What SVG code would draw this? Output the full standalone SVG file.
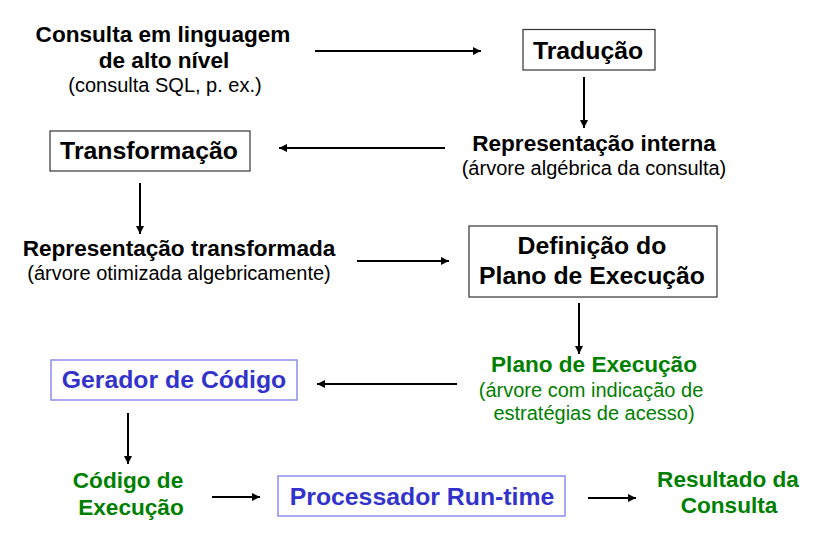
<svg xmlns="http://www.w3.org/2000/svg" width="817" height="538" viewBox="0 0 817 538">
<defs>
<marker id="ah" viewBox="0 0 10 10" refX="10" refY="5" markerWidth="4" markerHeight="4" orient="auto" markerUnits="strokeWidth">
<path d="M0,0 L10,5 L0,10 z" fill="#000"/>
</marker>
<style>
text{font-family:"Liberation Sans",Arial,sans-serif;text-anchor:middle}
.b{font-weight:bold}
.t24{font-size:24.8px}
.t22{font-size:22.6px}
.t20{font-size:20px}
.blk{fill:#000}
.grn{fill:#008000}
.blu{fill:#3333cc}
.box{fill:#fff;stroke:#333;stroke-width:1.2}
.bbox{fill:#fff;stroke:#8c8cf0;stroke-width:1.5}
.c line{stroke:#000;stroke-width:2;marker-end:url(#ah)}
</style>
</defs>
<rect width="817" height="538" fill="#fff"/>
<g id="consulta">
<text class="b t22 blk" x="163" y="42">Consulta em linguagem</text>
<text class="b t22 blk" x="164" y="68">de alto nível</text>
<text class="t20 blk" x="165" y="92">(consulta SQL, p. ex.)</text>
</g>
<g id="traducao">
<rect class="box" x="523" y="29.5" width="132" height="40.5"/>
<text class="b t24 blk" x="588" y="59">Tradução</text>
</g>
<g id="rep-interna">
<text class="b t22 blk" x="594" y="151">Representação interna</text>
<text class="t20 blk" x="594" y="175">(árvore algébrica da consulta)</text>
</g>
<g id="transformacao">
<rect class="box" x="50" y="131" width="200" height="40"/>
<text class="b t24 blk" x="149" y="159">Transformação</text>
</g>
<g id="rep-transformada">
<text class="b t22 blk" x="179" y="256">Representação transformada</text>
<text class="t20 blk" x="179" y="280">(árvore otimizada algebricamente)</text>
</g>
<g id="definicao">
<rect class="box" x="469" y="226" width="248" height="71"/>
<text class="b t24 blk" x="592" y="254">Definição do</text>
<text class="b t24 blk" x="592" y="284">Plano de Execução</text>
</g>
<g id="plano">
<text class="b t22 grn" x="594" y="372">Plano de Execução</text>
<text class="t20 grn" x="591" y="397">(árvore com indicação de</text>
<text class="t20 grn" x="594" y="420">estratégias de acesso)</text>
</g>
<g id="gerador">
<rect class="bbox" x="51" y="360" width="246" height="40"/>
<text class="b t24 blu" x="174" y="388">Gerador de Código</text>
</g>
<g id="codigo">
<text class="b t22 grn" x="128" y="488">Código de</text>
<text class="b t22 grn" x="131" y="515">Execução</text>
</g>
<g id="processador">
<rect class="bbox" x="278" y="476" width="287" height="40"/>
<text class="b t24 blu" x="422" y="505">Processador Run-time</text>
</g>
<g id="resultado">
<text class="b t22 grn" x="728" y="487">Resultado da</text>
<text class="b t22 grn" x="729" y="513">Consulta</text>
</g>
<g id="connectors" class="c">
<line x1="315" y1="51" x2="481" y2="51"/>
<line x1="584" y1="77" x2="584" y2="128"/>
<line x1="445" y1="148" x2="279" y2="148"/>
<line x1="140" y1="183" x2="140" y2="234"/>
<line x1="357" y1="261" x2="449" y2="261"/>
<line x1="579" y1="303" x2="579" y2="354"/>
<line x1="457" y1="384" x2="317" y2="384"/>
<line x1="128" y1="413" x2="128" y2="464"/>
<line x1="212" y1="497" x2="260" y2="497"/>
<line x1="588" y1="498" x2="636" y2="498"/>
</g>
</svg>
